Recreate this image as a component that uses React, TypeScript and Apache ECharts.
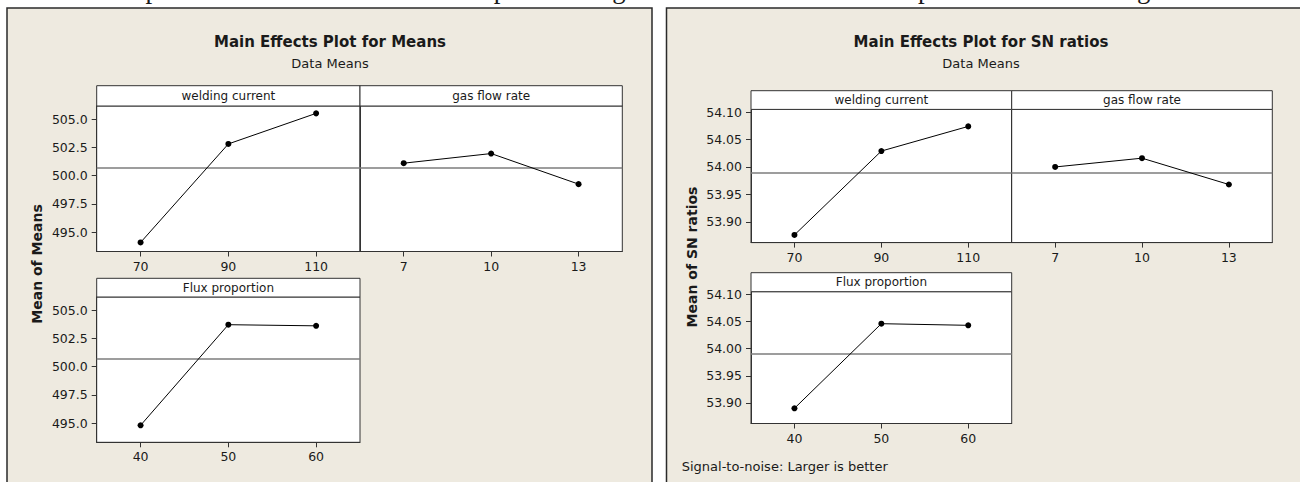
import React, { useEffect, useRef } from "react";
import * as echarts from "echarts";

// ---------- data ----------
const weldingCurrentLevels = ["70", "90", "110"];
const gasFlowRateLevels = ["7", "10", "13"];
const fluxProportionLevels = ["40", "50", "60"];

const meansWelding = [494.1, 502.8, 505.5];
const meansGasFlow = [501.1, 501.95, 499.25];
const meansFlux = [494.8, 503.7, 503.6];
const meansGrand = 500.7;
const meansTicks = [495.0, 497.5, 500.0, 502.5, 505.0];

const snWelding = [53.876, 54.029, 54.074];
const snGasFlow = [54.0, 54.016, 53.968];
const snFlux = [53.89, 54.046, 54.043];
const snGrand = 53.993;
const snTicks = [53.9, 53.95, 54.0, 54.05, 54.1];

const factorNames = ["welding current", "gas flow rate", "Flux proportion"];

// ---------- styles / layout ----------
const FONT = '"DejaVu Sans", Verdana, sans-serif';
const BEIGE = "#EEEAE0";
const DARK = "#333333";

type Panel = {
  left: number; top: number; width: number; height: number; stripTop: number;
  cats: string[]; values: number[]; grand: number; ticks: number[];
  min: number; max: number; showY: boolean; dec: number; name: string;
};

const panels: Panel[] = [
  { left: 96.7, top: 106, width: 263.3, height: 145.5, stripTop: 85.7, cats: weldingCurrentLevels, values: meansWelding, grand: meansGrand, ticks: meansTicks, min: 493.3, max: 506.15, showY: true, dec: 1, name: factorNames[0] },
  { left: 360, top: 106, width: 262.3, height: 145.5, stripTop: 85.7, cats: gasFlowRateLevels, values: meansGasFlow, grand: meansGrand, ticks: meansTicks, min: 493.3, max: 506.15, showY: false, dec: 1, name: factorNames[1] },
  { left: 96.7, top: 297, width: 263.3, height: 145.3, stripTop: 278.3, cats: fluxProportionLevels, values: meansFlux, grand: meansGrand, ticks: meansTicks, min: 493.3, max: 506.15, showY: true, dec: 1, name: factorNames[2] },
  { left: 751, top: 109.4, width: 260.7, height: 133.2, stripTop: 90.7, cats: weldingCurrentLevels, values: snWelding, grand: snGrand, ticks: snTicks, min: 53.862, max: 54.105, showY: true, dec: 2, name: factorNames[0] },
  { left: 1011.7, top: 109.4, width: 260.6, height: 133.2, stripTop: 90.7, cats: gasFlowRateLevels, values: snGasFlow, grand: snGrand, ticks: snTicks, min: 53.862, max: 54.105, showY: false, dec: 2, name: factorNames[1] },
  { left: 751, top: 291.7, width: 260.7, height: 131.8, stripTop: 272.7, cats: fluxProportionLevels, values: snFlux, grand: snGrand, ticks: snTicks, min: 53.862, max: 54.105, showY: true, dec: 2, name: factorNames[2] },
];

function text(x: number, y: number, t: string, font: string, align = "center", extra: any = {}) {
  return {
    type: "text",
    x,
    y,
    z: 20,
    silent: true,
    ...extra,
    style: { text: t, font, fill: "#1a1a1a", textAlign: align, textVerticalAlign: "middle" },
  };
}

export default function App() {
  const ref = useRef<HTMLDivElement>(null);

  useEffect(() => {
    if (!ref.current) return;
    const chart = echarts.init(ref.current, null, { renderer: "svg" });

    const grids = panels.map((p) => ({
      left: p.left, top: p.top, width: p.width, height: p.height,
      show: true, backgroundColor: "#ffffff", borderColor: DARK, borderWidth: 1,
      containLabel: false,
    }));

    const xAxes = panels.map((p, i) => ({
      gridIndex: i, type: "category", data: p.cats, boundaryGap: true,
      axisLine: { show: true, lineStyle: { color: DARK, width: 1 } },
      axisTick: { show: true, alignWithLabel: true, length: 5, inside: false, lineStyle: { color: DARK } },
      axisLabel: { show: true, interval: 0, color: "#1a1a1a", fontSize: 12.5, fontFamily: FONT, margin: 8 },
      splitLine: { show: false },
    }));

    const yAxes = panels.map((p, i) => ({
      gridIndex: i, type: "value", min: p.min, max: p.max,
      axisLine: { show: true, lineStyle: { color: DARK, width: 1 } },
      axisTick: { show: p.showY, length: 5, inside: false, customValues: p.ticks, lineStyle: { color: DARK } },
      axisLabel: {
        show: p.showY, customValues: p.ticks, color: "#1a1a1a", fontSize: 12.5, fontFamily: FONT, margin: 9,
        formatter: (v: number) => v.toFixed(p.dec),
      },
      splitLine: { show: false },
    }));

    const series = panels.map((p, i) => ({
      type: "line", xAxisIndex: i, yAxisIndex: i, data: p.values,
      symbol: "circle", symbolSize: 6, z: 5,
      lineStyle: { color: "#000", width: 1 },
      itemStyle: { color: "#000" },
      markLine: {
        silent: true, symbol: ["none", "none"], label: { show: false },
        lineStyle: { color: "#7d7d7d", width: 1.5, type: "solid" },
        data: [{ yAxis: p.grand }],
        z: 3,
      },
    }));

    const strips = panels.flatMap((p) => [
      {
        type: "rect", z: 15, silent: true,
        shape: { x: p.left, y: p.stripTop, width: p.width, height: p.top - p.stripTop },
        style: { fill: "#ffffff", stroke: DARK, lineWidth: 1 },
      },
      text(p.left + p.width / 2, (p.stripTop + p.top) / 2, p.name, `12px ${FONT}`),
    ]);

    const graphic = [
      text(68, -11, "effects plots are used to determine the optimal design conditions to obtain the optimum tensile strength.", '26.8px "Liberation Serif", "Times New Roman", serif', "left"),
      {
        type: "rect", z: -10, silent: true,
        shape: { x: 7, y: 8, width: 645, height: 500 },
        style: { fill: BEIGE, stroke: "#2a2a2a", lineWidth: 1.5 },
      },
      {
        type: "rect", z: -10, silent: true,
        shape: { x: 666.5, y: 8, width: 650, height: 500 },
        style: { fill: BEIGE, stroke: "#2a2a2a", lineWidth: 1.5 },
      },
      text(330, 42, "Main Effects Plot for Means", `bold 15px ${FONT}`),
      text(330, 63, "Data Means", `13px ${FONT}`),
      text(981, 42, "Main Effects Plot for SN ratios", `bold 15px ${FONT}`),
      text(981, 63, "Data Means", `13px ${FONT}`),
      text(37, 264, "Mean of Means", `bold 14px ${FONT}`, "center", { rotation: Math.PI / 2 }),
      text(692, 257, "Mean of SN ratios", `bold 14px ${FONT}`, "center", { rotation: Math.PI / 2 }),
      text(681.7, 466.7, "Signal-to-noise: Larger is better", `13px ${FONT}`, "left"),
      ...strips,
    ];

    chart.setOption({
      animation: false,
      backgroundColor: "#ffffff",
      grid: grids,
      xAxis: xAxes,
      yAxis: yAxes,
      series,
      graphic: { elements: graphic },
    });

    return () => chart.dispose();
  }, []);

  return (
    <div
      ref={ref}
      style={{ position: "fixed", left: 0, top: 0, width: 1300, height: 482, background: "#fff" }}
    />
  );
}
